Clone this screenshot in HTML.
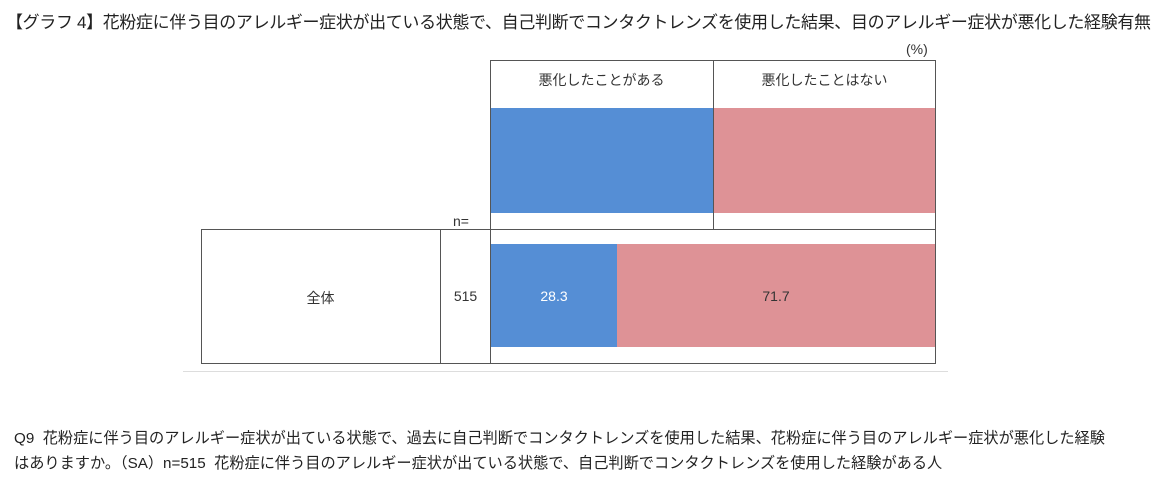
<!DOCTYPE html>
<html><head><meta charset="utf-8"><style>
body{margin:0;width:1170px;height:481px;background:#fff;position:relative;font-family:"Liberation Sans","Noto Sans CJK JP",sans-serif;color:#222;overflow:hidden}
.a{position:absolute}
.t{font-size:15px;white-space:nowrap}
.s{font-size:13px;color:#333;white-space:nowrap}
</style></head><body>
<div class="a t" style="left:6px;top:8px;font-size:17px;letter-spacing:-0.35px">【グラフ 4】花粉症に伴う目のアレルギー症状が出ている状態で、自己判断でコンタクトレンズを使用した結果、目のアレルギー症状が悪化した経験有無</div>
<div class="a s" style="left:906px;top:41px;font-size:14px">(%)</div>
<div class="a" style="left:490px;top:60px;width:444px;height:168px;border:1px solid #555;border-bottom:none"></div>
<div class="a" style="left:713px;top:60px;width:1px;height:169px;background:#555"></div>
<div class="a s" style="left:490px;top:70px;width:223px;text-align:center;font-size:14px">悪化したことがある</div>
<div class="a s" style="left:714px;top:70px;width:221px;text-align:center;font-size:14px">悪化したことはない</div>
<div class="a" style="left:491px;top:108px;width:222px;height:105px;background:#558ed5"></div>
<div class="a" style="left:714px;top:108px;width:221px;height:105px;background:#de9296"></div>
<div class="a s" style="left:453px;top:213px;font-size:14px">n=</div>
<div class="a" style="left:201px;top:229px;width:733px;height:133px;border:1px solid #555"></div>
<div class="a" style="left:440px;top:229px;width:1px;height:135px;background:#555"></div>
<div class="a" style="left:490px;top:229px;width:1px;height:135px;background:#555"></div>
<div class="a s" style="left:201px;top:288px;width:239px;text-align:center;font-size:14px">全体</div>
<div class="a s" style="left:441px;top:288px;width:49px;text-align:center;font-size:14px">515</div>
<div class="a" style="left:491px;top:244px;width:126px;height:103px;background:#558ed5"></div>
<div class="a" style="left:617px;top:244px;width:318px;height:103px;background:#de9296"></div>
<div class="a s" style="left:491px;top:288px;width:126px;text-align:center;color:#fff;font-size:14px">28.3</div>
<div class="a s" style="left:617px;top:288px;width:318px;text-align:center;font-size:14px">71.7</div>
<div class="a" style="left:183px;top:371px;width:765px;height:1px;background:#ddd"></div>
<div class="a t" style="left:14px;top:426px;font-size:15.2px">Q9&nbsp; 花粉症に伴う目のアレルギー症状が出ている状態で、過去に自己判断でコンタクトレンズを使用した結果、花粉症に伴う目のアレルギー症状が悪化した経験</div>
<div class="a t" style="left:14px;top:451px;font-size:15.2px">はありますか。（SA）n=515&nbsp; 花粉症に伴う目のアレルギー症状が出ている状態で、自己判断でコンタクトレンズを使用した経験がある人</div>
</body></html>
